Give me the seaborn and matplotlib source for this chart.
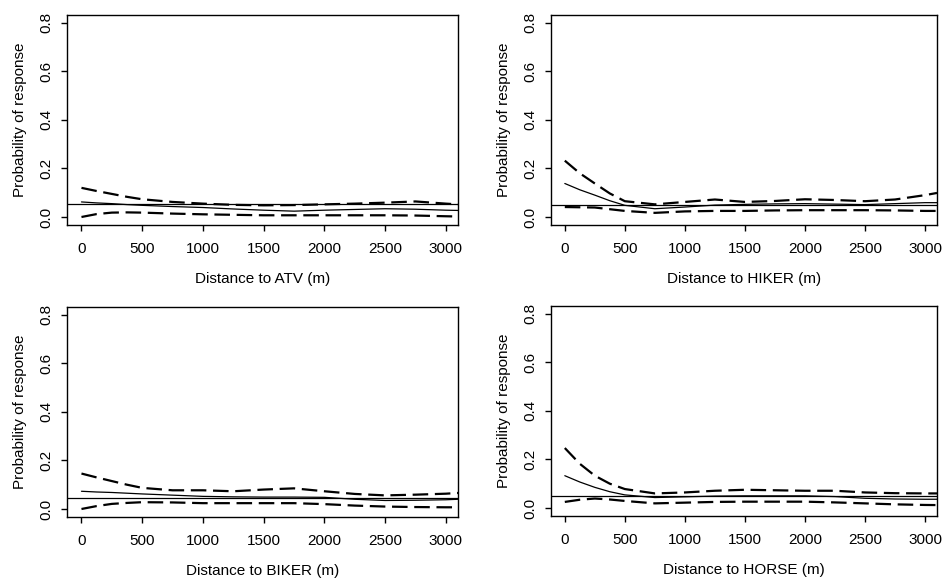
import numpy as np
import pandas as pd
import matplotlib
matplotlib.use('Agg')
import matplotlib.pyplot as plt
import seaborn as sns

# distance grid (m) shared by all four panels
dist = [0, 125, 250, 375, 500, 750, 1000, 1250, 1500, 1750, 2000, 2250, 2500, 2750, 3000, 3100]

atv_fit = [0.062, 0.058, 0.055, 0.051, 0.048, 0.043, 0.039, 0.033, 0.028, 0.024, 0.028, 0.031, 0.034, 0.032, 0.028, 0.027]
atv_up = [0.120, 0.107, 0.095, 0.083, 0.073, 0.062, 0.055, 0.050, 0.048, 0.049, 0.052, 0.055, 0.059, 0.064, 0.055, 0.052]
atv_lo = [0.000, 0.012, 0.018, 0.019, 0.018, 0.014, 0.011, 0.009, 0.007, 0.007, 0.007, 0.007, 0.007, 0.006, 0.003, 0.002]

hiker_fit = [0.138, 0.112, 0.090, 0.067, 0.048, 0.034, 0.041, 0.049, 0.052, 0.054, 0.055, 0.053, 0.051, 0.055, 0.059, 0.059]
hiker_up = [0.232, 0.180, 0.138, 0.097, 0.065, 0.052, 0.062, 0.072, 0.062, 0.066, 0.073, 0.070, 0.065, 0.072, 0.090, 0.099]
hiker_lo = [0.041, 0.040, 0.039, 0.032, 0.025, 0.017, 0.023, 0.025, 0.025, 0.027, 0.028, 0.028, 0.028, 0.027, 0.025, 0.025]

biker_fit = [0.073, 0.070, 0.068, 0.065, 0.062, 0.057, 0.052, 0.050, 0.049, 0.049, 0.048, 0.040, 0.035, 0.036, 0.038, 0.040]
biker_up = [0.146, 0.130, 0.115, 0.100, 0.087, 0.077, 0.077, 0.073, 0.080, 0.085, 0.073, 0.062, 0.056, 0.059, 0.063, 0.066]
biker_lo = [0.000, 0.012, 0.021, 0.025, 0.028, 0.027, 0.024, 0.024, 0.024, 0.024, 0.020, 0.014, 0.010, 0.008, 0.007, 0.007]

horse_fit = [0.133, 0.107, 0.085, 0.067, 0.054, 0.043, 0.046, 0.049, 0.050, 0.050, 0.050, 0.047, 0.040, 0.037, 0.036, 0.036]
horse_up = [0.247, 0.182, 0.133, 0.100, 0.078, 0.060, 0.064, 0.071, 0.075, 0.073, 0.071, 0.071, 0.064, 0.061, 0.060, 0.060]
horse_lo = [0.025, 0.034, 0.039, 0.035, 0.029, 0.019, 0.022, 0.025, 0.026, 0.026, 0.026, 0.023, 0.019, 0.015, 0.0125, 0.012]

# overall response probability (horizontal reference line)
ref_level = {'ATV': 0.052, 'HIKER': 0.048, 'BIKER': 0.045, 'HORSE': 0.050}

panels = [
    ('ATV', atv_fit, atv_up, atv_lo),
    ('HIKER', hiker_fit, hiker_up, hiker_lo),
    ('BIKER', biker_fit, biker_up, biker_lo),
    ('HORSE', horse_fit, horse_up, horse_lo),
]

sns.set_style('ticks')
plt.rcParams['font.family'] = ['Liberation Sans', 'DejaVu Sans']
plt.rcParams['text.color'] = 'black'
plt.rcParams['axes.labelcolor'] = 'black'

W, H = 945, 580
fig = plt.figure(figsize=(W / 100, H / 100), dpi=100)

# axes boxes in pixels: left, right, top, bottom
boxes = [(67.5, 458, 15, 225), (551, 937, 15, 225),
         (67.5, 458, 307, 517), (551, 937, 306, 516)]

dash = (0, (7, 3))

for (name, fit, up, lo), (l, r, t, b) in zip(panels, boxes):
    ax = fig.add_axes([l / W, 1 - b / H, (r - l) / W, (b - t) / H])
    df = pd.DataFrame({'dist': dist, 'fit': fit, 'up': up, 'lo': lo})

    ax.axhline(ref_level[name], color='black', lw=0.9)
    sns.lineplot(data=df, x='dist', y='fit', ax=ax, color='black', lw=0.9)
    sns.lineplot(data=df, x='dist', y='up', ax=ax, color='black', lw=1.6,
                 dashes=False, linestyle=dash)
    sns.lineplot(data=df, x='dist', y='lo', ax=ax, color='black', lw=1.6,
                 dashes=False, linestyle=dash)

    ax.set_xlim(-115, 3100)
    ax.set_ylim(-0.033, 0.832)
    ax.set_xticks([0, 500, 1000, 1500, 2000, 2500, 3000])
    ax.set_yticks([0.0, 0.2, 0.4, 0.6, 0.8])
    ax.set_yticklabels(['0.0', '0.2', '0.4', '0.6', '0.8'])
    for s in ax.spines.values():
        s.set_visible(True)
        s.set_linewidth(1.0)
        s.set_color('black')
    ax.tick_params(direction='out', length=4, width=1, colors='black',
                   labelsize=11, labelcolor='black')
    ax.tick_params(axis='x', pad=8)
    ax.tick_params(axis='y', pad=6)
    for lab in ax.get_yticklabels():
        lab.set_rotation(90)
        lab.set_va('center')
    ax.set_xlabel(f'Distance to {name} (m)', fontsize=11, labelpad=12)
    ax.set_ylabel('Probability of response', fontsize=11, labelpad=9)

fig.savefig('out.png', dpi=100)
